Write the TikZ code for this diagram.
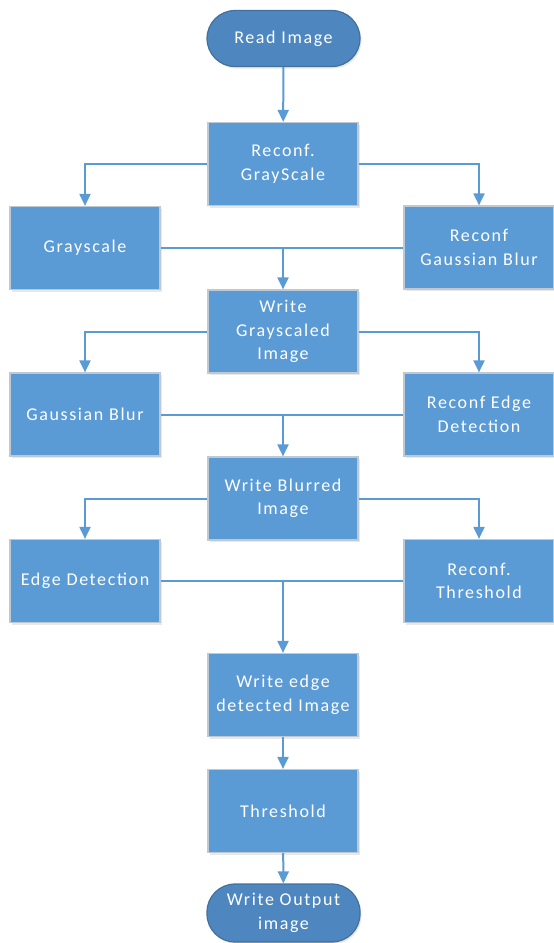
\documentclass[tikz,border=0pt]{standalone}
\usepackage{fontspec}
\setmainfont{Carlito}[LetterSpace=9]
\usetikzlibrary{arrows.meta,shadows}
\definecolor{boxblue}{HTML}{5B9BD5}
\definecolor{termblue}{HTML}{4E86BF}
\definecolor{termedge}{HTML}{41719C}
\definecolor{boxedge}{HTML}{BFC9D4}
\begin{document}
\begin{tikzpicture}[x=1pt,y=-1pt,
  lbl/.style={text=white, align=center, font=\fontsize{18}{23.5}\selectfont},
  proc/.style={lbl, rectangle, draw=boxedge, line width=1.2pt, fill=boxblue,
    minimum width=150pt, minimum height=83pt, inner sep=0pt,
    drop shadow={shadow xshift=1.5pt, shadow yshift=-2pt, opacity=0.18}},
  term/.style={lbl, rectangle, rounded corners=28pt, draw=termedge, line width=1.2pt,
    fill=termblue, minimum width=153pt, minimum height=56pt, inner sep=0pt,
    drop shadow={shadow xshift=1.5pt, shadow yshift=-2pt, opacity=0.18}},
  link/.style={draw=boxblue, line width=2pt},
  arr/.style={link, -{Triangle[width=11pt,length=12pt]}}]
\useasboundingbox (0,0) rectangle (554,943);

% nodes
\node[term] (read) at (283.5,38.5) {Read Image};
\node[proc] (rgs)  at (283,164)  {Reconf.\\GrayScale};
\node[proc] (gray) at (85,248)   {Grayscale};
\node[proc] (rgb)  at (479,247.5) {Reconf\\Gaussian Blur};
\node[proc] (wgi)  at (283,331.5) {Write\\Grayscaled\\Image};
\node[proc] (gb)   at (85,414.5) {Gaussian Blur};
\node[proc] (red)  at (479,414.5) {Reconf Edge\\Detection};
\node[proc] (wbi)  at (283,498.5) {Write Blurred\\Image};
\node[proc] (ed)   at (85,581)   {Edge Detection};
\node[proc] (rth)  at (479,581)  {Reconf.\\Threshold};
\node[proc] (wed)  at (283,695)  {Write edge\\detected Image};
\node[proc] (th)   at (283,811)  {Threshold};
\node[term, minimum height=58pt] (wout) at (283.5,913) {Write Output\\image};

% connectors
\draw[arr] (read) -- (rgs);
\draw[arr] (rgs.west) -| (gray.north);
\draw[arr] (rgs.east) -| (rgb.north);
\draw[arr] (gray.east) -| (wgi.north);
\draw[link] (rgb.west) -- (rgb.west -| wgi.north);
\draw[arr] (wgi.west) -| (gb.north);
\draw[arr] (wgi.east) -| (red.north);
\draw[arr] (gb.east) -| (wbi.north);
\draw[link] (red.west) -- (red.west -| wbi.north);
\draw[arr] (wbi.west) -| (ed.north);
\draw[arr] (wbi.east) -| (rth.north);
\draw[arr] (ed.east) -| (wed.north);
\draw[link] (rth.west) -- (rth.west -| wed.north);
\draw[arr] (wed) -- (th);
\draw[arr] (th) -- (wout);
\end{tikzpicture}
\end{document}
